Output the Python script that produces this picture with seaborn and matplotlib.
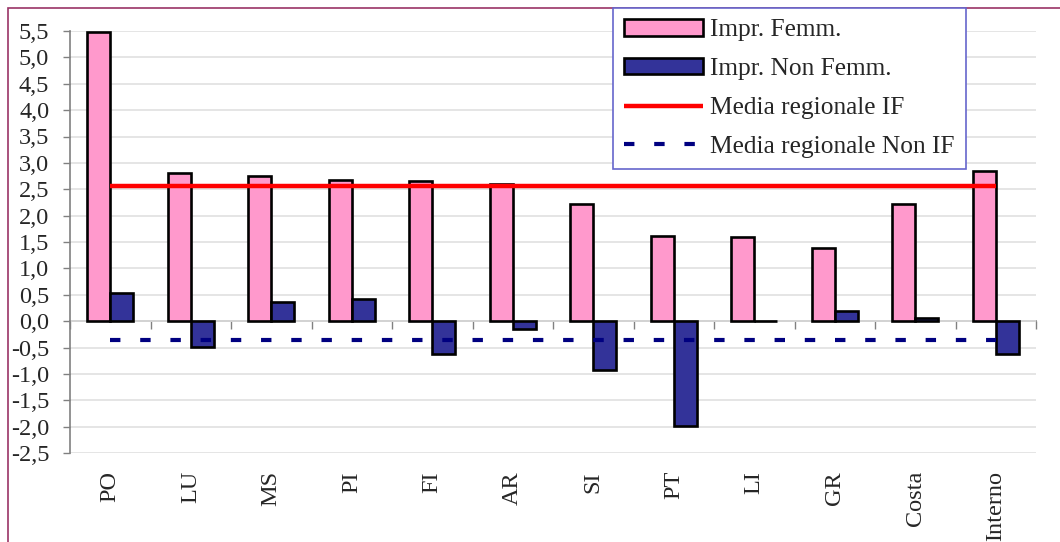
import pandas as pd
import numpy as np
import matplotlib
matplotlib.use("Agg")
import matplotlib.pyplot as plt
import matplotlib.patches as mpatches
from matplotlib.lines import Line2D
import seaborn as sns

sns.set_theme(style="white")
plt.rcParams['font.family'] = ['Liberation Serif', 'DejaVu Serif']

categories = ["PO", "LU", "MS", "PI", "FI", "AR", "SI", "PT", "LI", "GR", "Costa", "Interno"]
impr_femm = [5.48, 2.80, 2.75, 2.67, 2.65, 2.60, 2.22, 1.61, 1.59, 1.38, 2.22, 2.84]
impr_non_femm = [0.53, -0.49, 0.36, 0.42, -0.63, -0.15, -0.93, -1.99, 0.0, 0.19, 0.05, -0.63]
media_if = 2.56
media_non_if = -0.36

series_names = ["Impr. Femm.", "Impr. Non Femm."]
colors = {"Impr. Femm.": "#FF99CC", "Impr. Non Femm.": "#333399"}

df = pd.DataFrame({
    "Area": categories * 2,
    "Serie": [series_names[0]] * len(categories) + [series_names[1]] * len(categories),
    "Valore": impr_femm + impr_non_femm,
})

fig = plt.figure(figsize=(10.6, 5.42), dpi=100)
ax = fig.add_axes([70 / 1060, 1 - 453 / 542, (1036 - 70) / 1060, (453 - 31) / 542])

sns.barplot(data=df, x="Area", y="Valore", hue="Serie", order=categories,
            hue_order=series_names, palette=colors, saturation=1,
            width=0.57, edgecolor="black", linewidth=1.9, ax=ax, zorder=2)

leg = ax.get_legend()
bar_handles = [mpatches.Patch(facecolor=colors[s], edgecolor="black", linewidth=1.9) for s in series_names]
if leg is not None:
    leg.remove()

x_pos = np.arange(len(categories))
ax.plot(x_pos, np.full(len(categories), media_if), color="#FF0000", lw=3.2,
        solid_capstyle="butt", zorder=4)
ax.plot(x_pos, np.full(len(categories), media_non_if), color="#000080", lw=3,
        dashes=(2.5, 4.75), dash_capstyle="butt", zorder=4)

ax.set_xlim(-0.5, len(categories) - 0.5)
ax.set_ylim(-2.5, 5.5)
yticks = np.arange(-2.5, 5.51, 0.5)
ax.set_yticks(yticks)
ax.set_yticklabels([f"{v:.1f}".replace(".", ",") for v in yticks], fontsize=17.5)
ax.yaxis.grid(True, color="#E0E0E0", lw=1.2, zorder=0)
ax.xaxis.grid(False)
ax.set_axisbelow(True)
ax.tick_params(axis="y", direction="out", length=5, width=1, color="#808080", pad=10, left=True)
ax.set_xticks(x_pos)
ax.set_xticklabels(categories, rotation=90, fontsize=17.5)
ax.tick_params(axis="x", length=0, pad=13)
ax.set_xlabel("")
ax.set_ylabel("")
for s in ["top", "right", "bottom"]:
    ax.spines[s].set_visible(False)
ax.spines["left"].set_color("#808080")
ax.spines["left"].set_linewidth(1.2)

# zero line with category separators
sec = ax.secondary_xaxis(0, transform=ax.transData)
sec.set_xticks(np.arange(-0.5, len(categories), 1.0))
sec.set_xticklabels([])
sec.tick_params(direction="out", length=6, width=1, color="#808080")
sec.spines["bottom"].set_color("#808080")
sec.spines["bottom"].set_linewidth(1.2)

handles = bar_handles + [
    Line2D([], [], color="#FF0000", lw=3.2, solid_capstyle="butt"),
    Line2D([], [], color="#000080", lw=3, dashes=(2.5, 4.75), dash_capstyle="butt"),
]
labels = series_names + ["Media regionale IF", "Media regionale Non IF"]
legend = fig.legend(handles, labels, loc="upper left", bbox_to_anchor=(613 / 1060, 1 - 8 / 542),
                    bbox_transform=fig.transFigure, borderaxespad=0, fontsize=18.3,
                    handlelength=3.1, handleheight=0.6, handletextpad=0.25,
                    labelspacing=0.66, borderpad=0.45, fancybox=False, framealpha=1,
                    edgecolor="#6666CC")
legend.get_frame().set_linewidth(1.2)

fig.patches.append(mpatches.Rectangle((8 / 1060, -0.5), 2, 1.5 - 8 / 542, transform=fig.transFigure,
                                      fill=False, edgecolor="#993366", lw=1.2))

fig.savefig("out.png", dpi=100)
